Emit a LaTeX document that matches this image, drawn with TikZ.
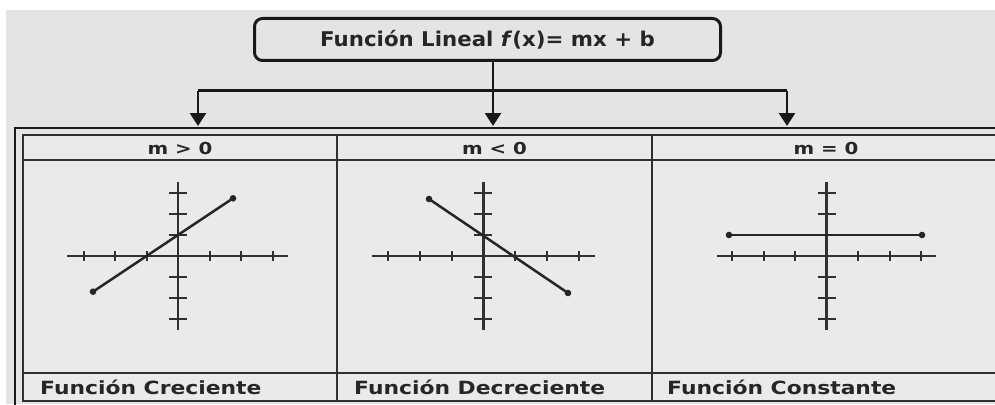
\documentclass[tikz,border=0pt]{standalone}
\usepackage{fontspec}
\setmainfont{DejaVu Sans}
\newfontfamily\widefont[FakeStretch=1.2]{DejaVu Sans}
\newfontfamily\titlefont[FakeStretch=1.05]{DejaVu Sans}
\usetikzlibrary{arrows.meta}
\definecolor{bg}{HTML}{E4E4E4}
\definecolor{cell}{HTML}{EAEAEA}
\definecolor{ln}{HTML}{303030}
\tikzset{
  titlebox/.style={draw=black!90, line width=3pt, rounded corners=8pt, fill=bg,
    minimum width=466pt, minimum height=42pt, inner sep=0pt,
    font=\titlefont\fontsize{20.3}{24}\selectfont\bfseries, text=black!85},
  hdr/.style={inner sep=0pt, font=\widefont\fontsize{16.5}{20}\selectfont\bfseries, text=black!85},
  ftr/.style={inner sep=0pt, anchor=west, font=\widefont\fontsize{18.2}{22}\selectfont\bfseries, text=black!85},
  conn/.style={draw=black!90, line width=2.6pt},
  arr/.style={conn, -{Triangle[length=13pt, width=16pt]}},
  tbl/.style={draw=ln, line width=2.2pt},
  axisln/.style={draw=ln, line width=2.5pt},
  tick/.style={draw=ln, line width=2pt},
  graph/.style={draw=black!85, line width=2.5pt},
  dot/.style={fill=black!85}
}
\begin{document}
\begin{tikzpicture}[x=1pt, y=-1pt]
\useasboundingbox (0,0) rectangle (995,404);
\clip (0,0) rectangle (995,404);
\fill[white] (0,0) rectangle (995,404);
\fill[bg] (6,10) rectangle (995,404);

% title
\node[titlebox] (title) at (487.5,39.5) {Función Lineal \textit{f}(x)= mx + b};

% connector points
\coordinate (j1) at (198,90.5);
\coordinate (j3) at (787,90.5);
\coordinate (a1) at (198,126);
\coordinate (a2) at (493,126);
\coordinate (a3) at (787,126);
\draw[conn] (j1) -- (j3);
\draw[arr] (a2 |- title.south) -- (a2);
\draw[arr] (j1) -- (a1);
\draw[arr] (j3) -- (a3);

% table frames
\draw[draw=black!90, line width=1.6pt] (15,410) -- (15,128) -- (1000,128);
\fill[cell] (23,135) rectangle (1000,401);
\draw[tbl] (23,135) rectangle (1000,401);
\draw[tbl] (23,160) -- (1000,160);
\draw[tbl] (23,373) -- (1000,373);
\draw[tbl] (337,135) -- (337,401);
\draw[tbl] (652,135) -- (652,401);

% headers
\node[hdr] (h1) at (180,148) {m > 0};
\node[hdr] (h2) at (494.5,148) {m < 0};
\node[hdr] (h3) at (826,148) {m = 0};

% footers
\node[ftr] (f1) at (40,387) {Función Creciente};
\node[ftr] (f2) at (354,387) {Función Decreciente};
\node[ftr] (f3) at (667,387) {Función Constante};

% plot 1
\begin{scope}[shift={(178,256)}]
  \draw[axisln] (-111,0) -- (110,0);
  \draw[axisln] (0,-74) -- (0,74);
  \foreach \k in {-3,-2,-1,1,2,3} {
    \draw[tick] (\k*31.5,-5) -- (\k*31.5,5);
    \draw[tick] (-9,\k*21) -- (9,\k*21);
  }
  \draw[graph] (-85,35.7) -- (55,-57.7);
  \fill[dot] (-85,35.7) circle (3.3pt);
  \fill[dot] (55,-57.7) circle (3.3pt);
\end{scope}

% plot 2
\begin{scope}[shift={(483.3,256)}]
  \draw[axisln] (-111,0) -- (112,0);
  \draw[axisln] (0,-74) -- (0,74);
  \foreach \k in {-3,-2,-1,1,2,3} {
    \draw[tick] (\k*31.8,-5) -- (\k*31.8,5);
    \draw[tick] (-9,\k*21) -- (9,\k*21);
  }
  \draw[graph] (-54.3,-57) -- (84.7,37);
  \fill[dot] (-54.3,-57) circle (3.3pt);
  \fill[dot] (84.7,37) circle (3.3pt);
\end{scope}

% plot 3
\begin{scope}[shift={(826.7,256)}]
  \draw[axisln] (-110,0) -- (109,0);
  \draw[axisln] (0,-74) -- (0,74);
  \foreach \k in {-3,-2,-1,1,2,3} {
    \draw[tick] (\k*31.5,-5) -- (\k*31.5,5);
    \draw[tick] (-9,\k*21) -- (9,\k*21);
  }
  \draw[graph] (-97.7,-21) -- (95.3,-21);
  \fill[dot] (-97.7,-21) circle (3.3pt);
  \fill[dot] (95.3,-21) circle (3.3pt);
\end{scope}
\end{tikzpicture}
\end{document}
